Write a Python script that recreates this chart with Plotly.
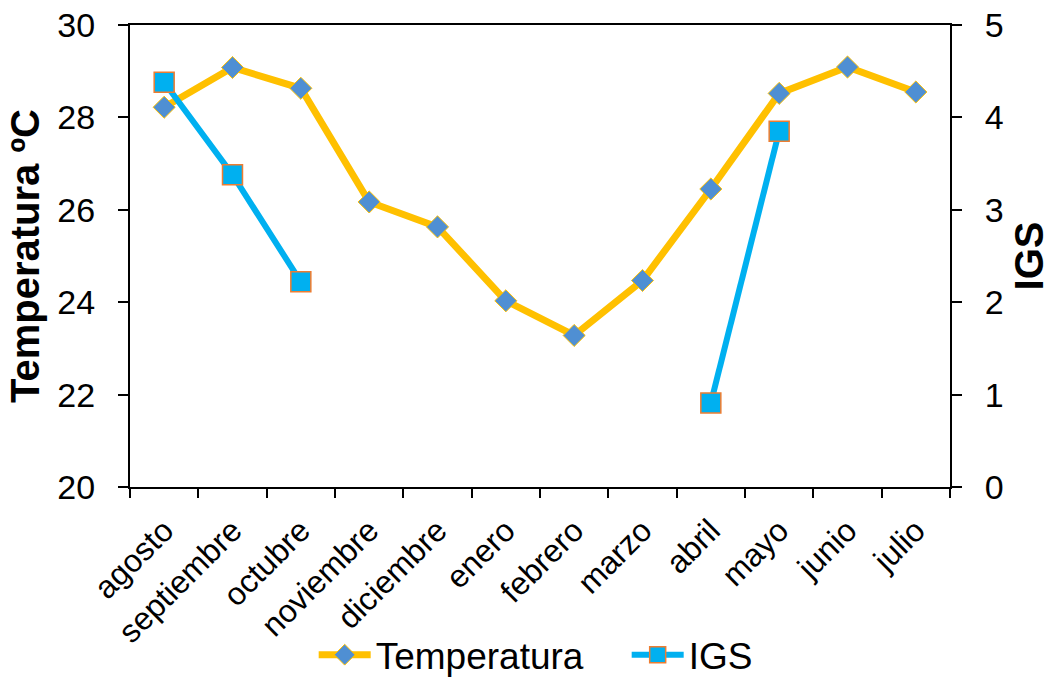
import plotly.graph_objects as go

months = ["agosto", "septiembre", "octubre", "noviembre", "diciembre", "enero",
          "febrero", "marzo", "abril", "mayo", "junio", "julio"]
temperatura = [28.22, 29.08, 28.63, 26.17, 25.63, 24.03, 23.28, 24.47, 26.45, 28.52, 29.09, 28.55]
igs = [4.38, 3.38, 2.22, None, None, None, None, None, 0.91, 3.85, None, None]

FONT = "Liberation Sans, Arial, sans-serif"

fig = go.Figure()
fig.add_trace(go.Scatter(
    x=months, y=temperatura, name="Temperatura", mode="lines+markers",
    line=dict(color="#FFC000", width=7),
    marker=dict(symbol="diamond", size=17, color="#4F8FD3",
                line=dict(color="#FFC000", width=1)),
    yaxis="y"))
fig.add_trace(go.Scatter(
    x=months, y=igs, name="IGS", mode="lines+markers",
    line=dict(color="#00B0F0", width=6),
    marker=dict(symbol="square", size=20, color="#00B0F0",
                line=dict(color="#ED7D31", width=1.5)),
    connectgaps=False, yaxis="y2"))

fig.update_layout(
    width=1051, height=678,
    margin=dict(l=130, r=101, t=25, b=191, autoexpand=False),
    paper_bgcolor="white", plot_bgcolor="white",
    font=dict(family=FONT, color="black", size=33),
    showlegend=True,
    legend=dict(orientation="h", x=0.224, xanchor="left", y=-0.364, yanchor="middle",
                font=dict(size=37), tracegroupgap=0, entrywidth=246,
                entrywidthmode="pixels", itemwidth=52, bgcolor="rgba(0,0,0,0)"),
    xaxis=dict(type="category", categoryorder="array", categoryarray=months,
               range=[-0.5, len(months) - 0.5],
               showline=True, linecolor="black", linewidth=2, mirror=True,
               ticks="outside", tickson="boundaries", ticklen=9, tickwidth=1.5,
               tickcolor="black", tickangle=-45, showgrid=False, zeroline=False,
               tickfont=dict(size=32), ticklabelstandoff=10, automargin=False),
    yaxis=dict(range=[20, 30], dtick=2, showline=True, linecolor="black", linewidth=2,
               ticks="outside", ticklen=10, tickwidth=1.5, tickcolor="black",
               showgrid=False, zeroline=False, tickfont=dict(size=34),
               ticklabelstandoff=16, automargin=False,
               title=dict(text="<b>Temperatura ºC</b>", font=dict(size=40), standoff=5)),
    yaxis2=dict(range=[0, 5], dtick=1, overlaying="y", side="right", showline=True,
                linecolor="black", linewidth=2, ticks="outside", ticklen=10, tickwidth=1.5,
                tickcolor="black", showgrid=False, zeroline=False, tickfont=dict(size=34),
                ticklabelstandoff=16, automargin=False,
                title=dict(text="<b>IGS</b>", font=dict(size=40), standoff=23)),
)

fig.write_html("out.html")
